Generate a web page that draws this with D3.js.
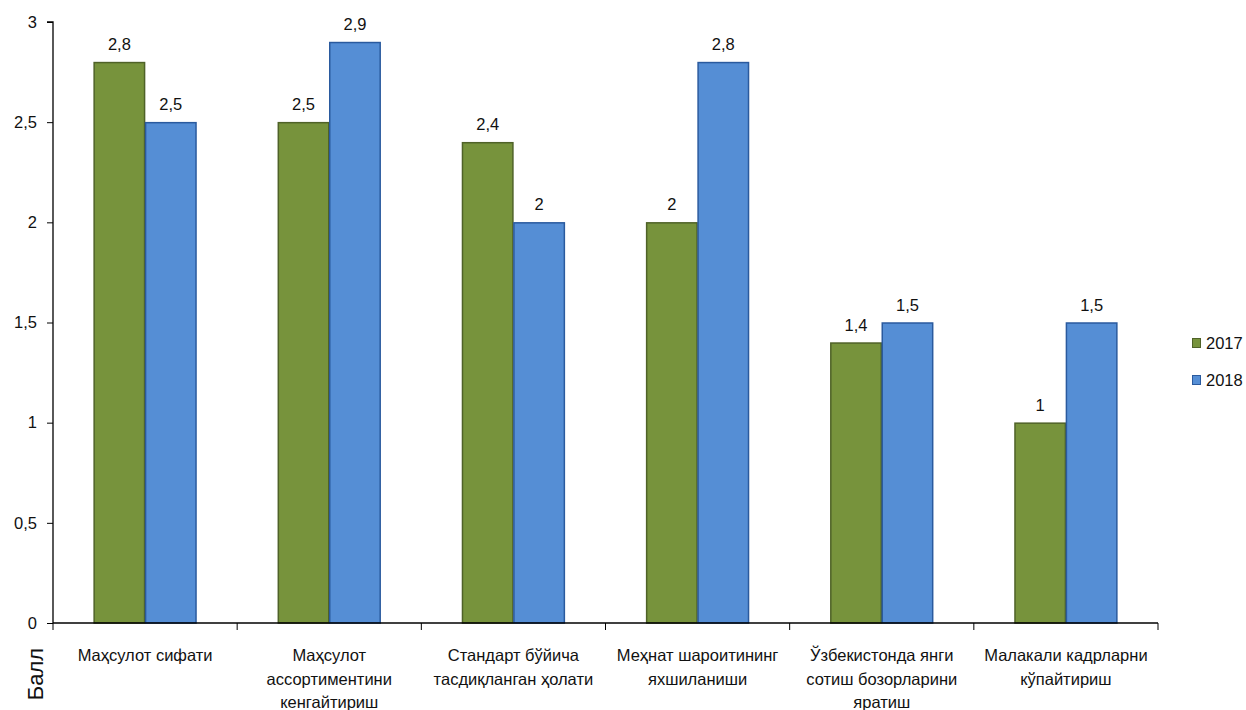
<!DOCTYPE html>
<html>
<head>
<meta charset="utf-8">
<script src="https://cdn.jsdelivr.net/npm/d3@7"></script>
<style>
body { margin: 0; background: #fff; }
text { font-family: "Liberation Sans", "DejaVu Sans", sans-serif; fill: #111; }
</style>
</head>
<body>
<svg id="chart" width="1246" height="710"></svg>
<script>
var categories = [
	["Маҳсулот сифати"],
	["Маҳсулот", "ассортиментини", "кенгайтириш"],
	["Стандарт бўйича", "тасдиқланган ҳолати"],
	["Меҳнат шароитининг", "яхшиланиши"],
	["Ўзбекистонда янги", "сотиш бозорларини", "яратиш"],
	["Малакали кадрларни", "кўпайтириш"]
];
var years = ["2017", "2018"];
var values2017 = [2.8, 2.5, 2.4, 2, 1.4, 1];
var values2018 = [2.5, 2.9, 2, 2.8, 1.5, 1.5];
var yTicks = [0, 0.5, 1, 1.5, 2, 2.5, 3];

var fills = ["#77933C", "#558ED5"];
var strokes = ["#4F6228", "#2A5A9E"];

var svg = d3.select("#chart");
var plotLeft = 53, plotRight = 1158, plotTop = 22, plotBottom = 623;

var x = d3.scaleBand()
	.domain(d3.range(categories.length))
	.range([plotLeft, plotRight]);

var xSub = d3.scaleBand()
	.domain(years)
	.range([0, x.bandwidth()])
	.paddingOuter(0.79)
	.paddingInner(0);

var y = d3.scaleLinear().domain([0, 3]).range([plotBottom, plotTop]);

var fmt = function(v){ return String(v).replace(".", ","); };

// bars
var series = [values2017, values2018];
series.forEach(function(vals, si){
	var g = svg.append("g");
	g.selectAll("rect")
		.data(vals)
		.enter()
		.append("rect")
		.attr("x", (d, i) => x(i) + xSub(years[si]) + 0.5)
		.attr("y", d => y(d) + 0.5)
		.attr("width", xSub.bandwidth() - 1)
		.attr("height", d => y(0) - y(d) - 0.5)
		.attr("fill", fills[si])
		.attr("stroke", strokes[si])
		.attr("stroke-width", 1.5);
	g.selectAll("text")
		.data(vals)
		.enter()
		.append("text")
		.attr("x", (d, i) => x(i) + xSub(years[si]) + xSub.bandwidth() / 2)
		.attr("y", d => y(d) - 12)
		.attr("text-anchor", "middle")
		.style("font-size", "16.5px")
		.text(fmt);
});

// y axis
var yAxis = d3.axisLeft(y)
	.tickValues(yTicks)
	.tickSize(6)
	.tickFormat(fmt);
var gy = svg.append("g")
	.attr("transform", "translate(" + plotLeft + ",0)")
	.call(yAxis);
gy.select(".domain").attr("stroke", "#000").attr("stroke-width", 1.3).attr("d", "M-6," + plotTop + "H0V" + plotBottom);
gy.selectAll(".tick line").attr("stroke", "#000");
gy.selectAll(".tick text")
	.attr("x", -16)
	.style("font-size", "16.5px")
	.style("font-family", "Liberation Sans, sans-serif")
	.attr("fill", "#111");

// x axis
var gx = svg.append("g");
gx.append("line")
	.attr("x1", plotLeft).attr("x2", plotRight)
	.attr("y1", plotBottom).attr("y2", plotBottom)
	.attr("stroke", "#000").attr("stroke-width", 1.3);
gx.selectAll("line.tick")
	.data(d3.range(categories.length + 1))
	.enter()
	.append("line")
	.attr("class", "tick")
	.attr("x1", i => plotLeft + i * x.bandwidth())
	.attr("x2", i => plotLeft + i * x.bandwidth())
	.attr("y1", plotBottom).attr("y2", plotBottom + 7)
	.attr("stroke", "#000");

gx.selectAll("text.cat")
	.data(categories)
	.enter()
	.append("text")
	.attr("class", "cat")
	.attr("text-anchor", "middle")
	.style("font-size", "16.5px")
	.each(function(lines, i){
		var t = d3.select(this);
		lines.forEach(function(l, j){
			t.append("tspan")
				.attr("x", x(i) + x.bandwidth() / 2)
				.attr("y", 661 + j * 23.5)
				.text(l);
		});
	});

// y title
svg.append("text")
	.attr("transform", "translate(43,674) rotate(-90)")
	.attr("text-anchor", "middle")
	.style("font-size", "22px")
	.text("Балл");

// legend
var legend = svg.append("g").attr("transform", "translate(1192,338)");
years.forEach(function(yr, i){
	legend.append("rect")
		.attr("x", 0.5).attr("y", i * 37 + 0.5)
		.attr("width", 8).attr("height", 9)
		.attr("fill", fills[i]).attr("stroke", strokes[i]);
	legend.append("text")
		.attr("x", 14).attr("y", i * 37 + 11)
		.style("font-size", "16.5px")
		.text(yr);
});
</script>
</body>
</html>
